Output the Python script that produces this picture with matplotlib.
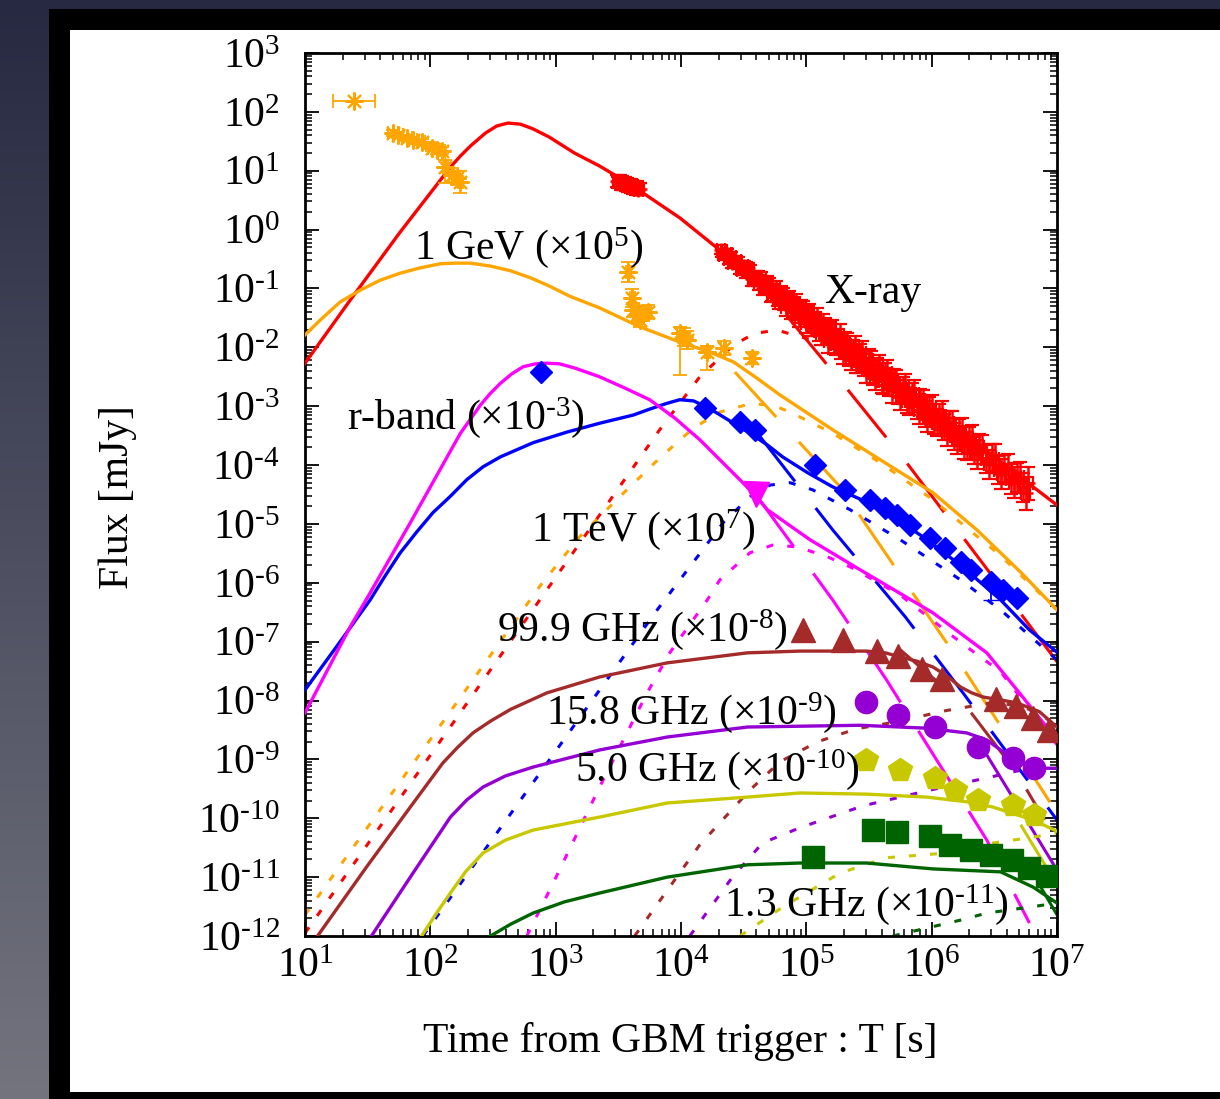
import numpy as np
import matplotlib
matplotlib.use("Agg")
import matplotlib.pyplot as plt
from matplotlib.patches import Rectangle
from matplotlib.colors import LinearSegmentedColormap
from matplotlib.ticker import LogLocator, NullFormatter, FuncFormatter

plt.rcParams['font.family'] = ['Liberation Serif', 'DejaVu Serif']
plt.rcParams['mathtext.fontset'] = 'custom'
plt.rcParams['mathtext.rm'] = 'Liberation Serif'
plt.rcParams['mathtext.it'] = 'Liberation Serif:italic'
plt.rcParams['mathtext.default'] = 'regular'

# all curves / points are stored as log10(T [s]) and log10(F [mJy])

# ---- total model (solid) ----
xray_lt = [1.00, 1.36, 1.76, 2.16, 2.24, 2.32, 2.44, 2.53, 2.62, 2.72, 2.82, 2.95, 3.15, 3.35, 3.58, 3.99, 4.31, 4.63, 4.95, 5.35, 5.75, 6.15, 6.55, 7.00]
xray_lf = [-2.27, -1.20, -0.04, 1.06, 1.25, 1.42, 1.64, 1.76, 1.81, 1.79, 1.71, 1.57, 1.30, 1.08, 0.79, 0.20, -0.35, -0.86, -1.28, -1.96, -2.64, -3.32, -3.95, -4.68]

gev_lt = [1.00, 1.12, 1.28, 1.44, 1.60, 1.76, 1.92, 2.08, 2.20, 2.32, 2.48, 2.64, 2.80, 2.95, 3.11, 3.35, 3.67, 3.99, 4.23, 4.42, 4.59, 4.79, 5.21, 5.59, 6.01, 6.36, 6.71, 7.00]
gev_lf = [-1.79, -1.54, -1.23, -1.03, -0.86, -0.74, -0.65, -0.58, -0.57, -0.57, -0.62, -0.70, -0.82, -0.96, -1.13, -1.33, -1.65, -1.91, -2.08, -2.25, -2.50, -2.81, -3.40, -3.91, -4.47, -5.10, -5.82, -6.46]

rband_lt = [1.00, 1.26, 1.52, 1.64, 1.76, 1.89, 2.02, 2.16, 2.29, 2.42, 2.56, 2.82, 3.09, 3.35, 3.62, 3.75, 3.89, 3.99, 4.10, 4.19, 4.29, 4.42, 4.55, 4.69, 4.81, 5.01, 5.21, 5.41, 5.61, 5.91, 6.23, 6.55, 6.78, 7.00]
rband_lf = [-7.82, -7.06, -6.29, -5.88, -5.49, -5.14, -4.81, -4.53, -4.25, -4.03, -3.86, -3.62, -3.44, -3.29, -3.15, -3.05, -2.95, -2.89, -2.91, -3.00, -3.12, -3.29, -3.46, -3.66, -3.86, -4.13, -4.37, -4.56, -4.76, -5.19, -5.70, -6.29, -6.80, -7.18]

tev_lt = [1.00, 1.36, 1.52, 1.84, 2.04, 2.24, 2.40, 2.48, 2.56, 2.65, 2.74, 2.84, 2.93, 3.03, 3.15, 3.35, 3.55, 3.75, 3.95, 4.15, 4.31, 4.47, 4.59, 4.69, 4.83, 5.03, 5.43, 6.01, 6.44, 6.70, 7.00]
tev_lf = [-8.21, -6.75, -6.17, -4.98, -4.22, -3.46, -2.98, -2.78, -2.61, -2.45, -2.33, -2.28, -2.27, -2.28, -2.35, -2.50, -2.69, -2.89, -3.20, -3.57, -3.91, -4.25, -4.51, -4.76, -4.97, -5.27, -5.78, -6.51, -7.19, -7.87, -8.67]

g999_lt = [1.10, 1.49, 1.84, 2.10, 2.22, 2.34, 2.48, 2.64, 2.93, 3.35, 3.89, 4.53, 4.95, 5.48, 5.63, 5.75, 5.88, 6.01, 6.12, 6.23, 6.32, 6.41, 6.55, 6.68, 6.86, 7.00]
g999_lf = [-12.00, -10.83, -9.81, -9.06, -8.79, -8.55, -8.35, -8.15, -7.87, -7.60, -7.36, -7.19, -7.16, -7.16, -7.19, -7.26, -7.33, -7.43, -7.58, -7.77, -7.87, -7.94, -7.99, -8.04, -8.19, -8.45]

g158_lt = [1.53, 1.84, 2.16, 2.29, 2.42, 2.60, 2.82, 3.35, 3.89, 4.53, 5.43, 5.96, 6.28, 6.44, 6.55, 6.63, 6.71, 6.81, 6.90, 7.00]
g158_lf = [-12.00, -11.00, -9.98, -9.69, -9.47, -9.28, -9.13, -8.84, -8.62, -8.45, -8.42, -8.47, -8.55, -8.67, -8.84, -8.96, -9.06, -9.13, -9.15, -9.15]

g50_lt = [1.93, 2.05, 2.16, 2.28, 2.42, 2.60, 2.82, 3.35, 3.89, 4.53, 4.95, 5.48, 5.96, 6.28, 6.49, 6.81, 7.00]
g50_lf = [-12.00, -11.61, -11.27, -10.91, -10.59, -10.37, -10.20, -9.98, -9.74, -9.64, -9.57, -9.59, -9.64, -9.72, -9.81, -10.03, -10.22]

g13_lt = [2.48, 2.64, 2.82, 3.07, 3.35, 3.89, 4.53, 4.95, 5.48, 6.01, 6.55, 6.81, 7.00]
g13_lf = [-12.00, -11.80, -11.61, -11.42, -11.27, -11.00, -10.79, -10.76, -10.76, -10.86, -10.91, -11.17, -11.44]

# ---- late component (dotted) ----
xray_b_lt = [1.00, 3.83, 4.15, 4.42, 4.59, 4.77, 4.95, 5.35, 6.15, 6.78]
xray_b_lf = [-11.95, -3.40, -2.50, -1.96, -1.76, -1.71, -1.82, -2.05, -3.40, -4.46]

gev_b_lt = [1.00, 2.88, 3.19, 3.51, 3.83, 4.10, 4.31, 4.55, 4.73, 4.87, 5.21, 5.59, 6.01, 6.55, 7.00]
gev_b_lf = [-11.64, -6.04, -5.22, -4.54, -3.88, -3.37, -3.10, -2.96, -2.98, -3.10, -3.46, -3.96, -4.59, -5.54, -6.46]

rband_b_lt = [1.94, 3.81, 4.13, 4.34, 4.55, 4.71, 4.87, 5.05, 5.35, 5.75, 6.23, 6.55, 7.00]
rband_b_lf = [-12.00, -6.46, -5.56, -4.97, -4.54, -4.34, -4.30, -4.42, -4.76, -5.27, -5.95, -6.46, -7.31]

tev_b_lt = [2.77, 2.98, 3.35, 3.73, 3.91, 4.21, 4.31, 4.55, 4.73, 4.93, 5.17, 5.35, 5.75, 6.23, 6.55, 7.00]
tev_b_lf = [-12.00, -11.10, -9.47, -7.87, -7.19, -6.29, -5.95, -5.49, -5.36, -5.39, -5.56, -5.73, -6.21, -7.01, -7.51, -8.75]

g999_b_lt = [3.63, 4.15, 4.55, 4.79, 5.09, 5.40, 5.75, 6.09, 6.47, 6.68, 6.86, 7.00]
g999_b_lf = [-12.00, -10.45, -9.52, -9.04, -8.70, -8.48, -8.35, -8.18, -8.04, -8.08, -8.21, -8.45]

g158_b_lt = [4.07, 4.41, 4.65, 4.95, 5.45, 5.99, 6.47, 6.65, 6.81, 7.00]
g158_b_lf = [-12.00, -11.00, -10.42, -10.16, -9.79, -9.52, -9.30, -9.21, -9.15, -9.15]

g50_b_lt = [4.47, 4.81, 5.27, 5.64, 6.12, 6.49, 6.81, 7.00]
g50_b_lf = [-12.00, -11.51, -10.93, -10.67, -10.59, -10.42, -10.32, -10.25]

g13_b_lt = [5.69, 5.99, 6.23, 6.44, 6.78, 7.00]
g13_b_lf = [-12.00, -11.85, -11.73, -11.61, -11.51, -11.44]

# ---- steep decaying component (long dash) ----
xray_c_lt = [4.85, 5.33, 5.80, 7.00]
xray_c_lf = [-1.48, -2.72, -3.96, -7.34]
gev_c_lt = [4.43, 5.27, 6.12, 7.00]
gev_c_lf = [-2.42, -4.37, -7.02, -9.91]
rband_c_lt = [4.61, 5.21, 5.79, 6.25, 7.00]
rband_c_lf = [-3.46, -5.10, -6.58, -7.87, -10.03]
tev_c_lt = [4.61, 5.21, 5.64, 6.04, 6.44, 6.78]
tev_c_lf = [-4.54, -6.29, -7.65, -9.01, -10.37, -11.78]
g999_c_lt = [5.75, 6.28, 6.68, 6.90]
g999_c_lf = [-7.14, -8.11, -9.23, -10.03]
g158_c_lt = [6.39, 7.00]
g158_c_lf = [-8.75, -10.88]
g50_c_lt = [6.71, 7.00]
g50_c_lf = [-10.11, -11.13]
g13_c_lt = [6.86, 7.00]
g13_c_lf = [-11.13, -11.64]

# ---- observations ----
lat_lt = [1.39, 1.70, 1.74, 1.81, 1.86, 1.93, 2.01, 2.05, 2.09, 2.12, 2.17, 2.21, 2.24,
          3.58, 3.61, 3.62, 3.66, 3.70, 3.74, 3.67, 3.99, 4.02, 4.05, 4.21, 4.34, 4.57]
lat_lf = [2.18, 1.64, 1.61, 1.56, 1.52, 1.49, 1.39, 1.35, 1.34, 1.06, 0.93, 0.88, 0.81,
          -0.72, -1.16, -1.37, -1.45, -1.42, -1.40, -1.54, -1.76, -1.82, -1.88, -2.08, -2.01, -2.18]
lat_dlt = [0.17, 0.04, 0.04, 0.04, 0.03, 0.03, 0.03, 0.03, 0.03, 0.02, 0.02, 0.02, 0.02,
           0.02, 0.02, 0.02, 0.02, 0.02, 0.02, 0.02, 0.02, 0.02, 0.02, 0.02, 0.02, 0.02]
lat_dlf_lo = [0.0, 0.05, 0.05, 0.05, 0.05, 0.05, 0.06, 0.06, 0.06, 0.27, 0.12, 0.12, 0.19,
              0.17, 0.15, 0.12, 0.12, 0.12, 0.12, 0.12, 0.71, 0.15, 0.15, 0.31, 0.12, 0.10]
lat_dlf_hi = [0.0, 0.05, 0.05, 0.05, 0.05, 0.05, 0.06, 0.06, 0.06, 0.12, 0.12, 0.12, 0.19,
              0.17, 0.15, 0.12, 0.12, 0.12, 0.12, 0.12, 0.10, 0.15, 0.15, 0.10, 0.12, 0.10]

xrt_lt = [3.49, 3.50, 3.51, 3.52, 3.53, 3.54, 3.55, 3.56, 3.57, 3.58, 3.59, 3.60, 3.61, 3.62, 3.63, 3.64, 3.65, 3.66, 3.67,
          4.32, 4.34, 4.36, 4.38, 4.40, 4.42, 4.44, 4.47, 4.50, 4.52, 4.55, 4.57, 4.60, 4.62,
          4.64, 4.67, 4.70, 4.72, 4.74, 4.77, 4.80, 4.82, 4.85, 4.88, 4.90, 4.93, 4.96, 4.98,
          5.01, 5.04, 5.07, 5.10, 5.13, 5.16, 5.19, 5.22, 5.25, 5.28, 5.31, 5.34, 5.37, 5.40,
          5.43, 5.46, 5.50, 5.53, 5.56, 5.60, 5.63, 5.66, 5.70, 5.73, 5.77, 5.80, 5.84, 5.88,
          5.91, 5.95, 5.98, 6.02, 6.06, 6.10, 6.14, 6.18, 6.22, 6.26, 6.30, 6.34, 6.38, 6.43,
          6.48, 6.53, 6.58, 6.63, 6.68, 6.73, 6.77,
          4.33, 4.37, 4.41, 4.455, 4.485, 4.535, 4.585, 4.615, 4.655, 4.685, 4.73, 4.755,
          4.785, 4.81, 4.835, 4.865, 4.89, 4.915, 4.945, 4.97, 4.995, 5.025, 5.055, 5.085,
          5.115, 5.145, 5.175, 5.205, 5.235, 5.265, 5.295, 5.325, 5.355, 5.385, 5.415, 5.445,
          5.48, 5.515, 5.545, 5.58, 5.615, 5.645, 5.68, 5.715, 5.75, 5.785, 5.82, 5.86,
          5.895, 5.93, 5.965, 6.00, 6.04, 6.08, 6.12, 6.16, 6.20, 6.24, 6.28, 6.32,
          6.36, 6.405, 6.455, 6.505, 6.555, 6.605, 6.655, 6.705, 6.75]
xrt_lf = [0.83, 0.80, 0.82, 0.78, 0.81, 0.77, 0.79, 0.75, 0.78, 0.74, 0.76, 0.72, 0.75, 0.71, 0.73, 0.69, 0.72, 0.68, 0.69,
          -0.34, -0.44, -0.41, -0.50, -0.46, -0.55, -0.53, -0.66, -0.62, -0.72, -0.70, -0.84, -0.80, -0.90,
          -0.83, -0.97, -0.94, -1.10, -1.04, -1.16, -1.08, -1.22, -1.19, -1.37, -1.28, -1.43, -1.33, -1.50,
          -1.45, -1.65, -1.55, -1.72, -1.60, -1.79, -1.73, -1.94, -1.86, -2.01, -1.91, -2.13, -2.05, -2.25,
          -2.13, -2.30, -2.21, -2.44, -2.37, -2.57, -2.45, -2.63, -2.55, -2.76, -2.71, -2.91, -2.80, -3.00,
          -2.90, -3.14, -3.06, -3.26, -3.17, -3.35, -3.29, -3.51, -3.44, -3.66, -3.58, -3.76, -3.70, -3.90,
          -3.87, -4.08, -4.06, -4.24, -4.21, -4.38, -4.31,
          -0.40, -0.41, -0.57, -0.56, -0.68, -0.66, -0.85, -0.81, -0.99, -0.91, -1.08, -1.01,
          -1.21, -1.13, -1.31, -1.19, -1.36, -1.25, -1.49, -1.38, -1.59, -1.44, -1.64, -1.52,
          -1.78, -1.68, -1.90, -1.73, -1.94, -1.80, -2.08, -1.96, -2.19, -2.01, -2.24, -2.10,
          -2.39, -2.28, -2.51, -2.34, -2.58, -2.43, -2.72, -2.60, -2.85, -2.68, -2.92, -2.79,
          -3.07, -2.95, -3.20, -3.04, -3.28, -3.16, -3.44, -3.33, -3.58, -3.44, -3.68, -3.57,
          -3.82, -3.74, -3.99, -3.89, -4.15, -4.07, -4.30, -4.21, -4.48]
xrt_dlf = [0.10, 0.10, 0.10, 0.10, 0.10, 0.10, 0.10, 0.10, 0.10, 0.10, 0.10, 0.10, 0.10, 0.10, 0.10, 0.10, 0.10, 0.10, 0.10,
           0.07, 0.08, 0.07, 0.09, 0.08, 0.09, 0.08, 0.10, 0.09, 0.10, 0.10, 0.11, 0.10, 0.12,
           0.11, 0.12, 0.12, 0.13, 0.12, 0.14, 0.13, 0.14, 0.13, 0.15, 0.14, 0.15, 0.14, 0.16,
           0.15, 0.16, 0.15, 0.17, 0.16, 0.17, 0.16, 0.18, 0.17, 0.18, 0.17, 0.19, 0.18, 0.19,
           0.18, 0.19, 0.18, 0.20, 0.19, 0.20, 0.19, 0.20, 0.19, 0.21, 0.20, 0.21, 0.20, 0.21,
           0.20, 0.22, 0.21, 0.22, 0.21, 0.22, 0.21, 0.23, 0.22, 0.23, 0.22, 0.23, 0.22, 0.24,
           0.23, 0.24, 0.23, 0.25, 0.24, 0.25, 0.28,
           0.07, 0.08, 0.09, 0.09, 0.10, 0.10, 0.11, 0.11, 0.12, 0.12, 0.13, 0.13,
           0.14, 0.14, 0.15, 0.15, 0.15, 0.16, 0.16, 0.16, 0.17, 0.17, 0.17, 0.18,
           0.18, 0.18, 0.19, 0.19, 0.19, 0.19, 0.20, 0.20, 0.20, 0.20, 0.20, 0.21,
           0.21, 0.21, 0.21, 0.21, 0.22, 0.22, 0.22, 0.22, 0.22, 0.22, 0.23, 0.23,
           0.23, 0.23, 0.23, 0.23, 0.23, 0.24, 0.24, 0.24, 0.24, 0.24, 0.24, 0.25,
           0.25, 0.25, 0.25, 0.25, 0.26, 0.26, 0.26, 0.27, 0.28]

opt_lt = [2.88, 4.19, 4.47, 4.59, 5.07, 5.31, 5.51, 5.63, 5.72, 5.83, 5.99, 6.11, 6.23, 6.31, 6.47, 6.57, 6.68]
opt_lf = [-2.42, -3.03, -3.27, -3.40, -4.00, -4.42, -4.59, -4.73, -4.85, -5.02, -5.24, -5.41, -5.65, -5.78, -5.99, -6.12, -6.26]

magic_lt = [4.60]
magic_lf = [-4.50]

mm_lt = [4.97, 5.29, 5.56, 5.73, 5.92, 6.08, 6.51, 6.67, 6.81, 6.94]
mm_lf = [-6.80, -6.97, -7.16, -7.24, -7.46, -7.63, -7.97, -8.09, -8.30, -8.50]

r158_lt = [5.48, 5.73, 6.03, 6.37, 6.65, 6.82]
r158_lf = [-8.02, -8.25, -8.45, -8.79, -8.98, -9.15]

r50_lt = [5.48, 5.75, 6.03, 6.19, 6.37, 6.65, 6.82]
r50_lf = [-9.01, -9.18, -9.32, -9.52, -9.69, -9.78, -9.94]

r13_lt = [5.05, 5.53, 5.72, 5.99, 6.15, 6.31, 6.47, 6.64, 6.78, 6.92]
r13_lf = [-10.66, -10.20, -10.23, -10.30, -10.45, -10.54, -10.62, -10.71, -10.84, -10.98]

RED, ORANGE, BLUE, MAGENTA = '#ff0000', '#ffa500', '#0000ff', '#ff00ff'
BROWN, VIOLET, DKYELLOW, DKGREEN = '#a52a2a', '#9400d3', '#c8c800', '#006400'

DOTTED = (0, (2.3, 4.6))
LONGDASH = (0, (20, 11))
HY = '\u2010'   # plain hyphen for negative exponents


def p10(v):
    return 10 ** np.asarray(v, dtype=float)


def asym(l, dlo, dhi):
    l = np.asarray(l, float)
    return [10 ** l - 10 ** (l - np.asarray(dlo, float)), 10 ** (l + np.asarray(dhi, float)) - 10 ** l]


def pow10(v, pos):
    e = int(round(np.log10(v)))
    return '10$^{%s}$' % str(e).replace('-', HY)


fig = plt.figure(figsize=(12.2, 10.99), dpi=100)

# slide background + frame
bg = fig.add_axes([0, 0, 1, 1], zorder=-10)
grad = np.linspace(0, 1, 256).reshape(-1, 1)
bg.imshow(grad, aspect='auto', extent=[0, 1, 0, 1], origin='upper',
          cmap=LinearSegmentedColormap.from_list('slide', ['#262941', '#74747f']))
bg.axis('off')
fig.patches.append(Rectangle((49 / 1220, 0), 1, 1090 / 1099, transform=fig.transFigure,
                             facecolor='black', edgecolor='none', zorder=-5))
fig.patches.append(Rectangle((70 / 1220, 7 / 1099), 1, 1062 / 1099, transform=fig.transFigure,
                             facecolor='white', edgecolor='none', zorder=-4))

ax = fig.add_axes([0.25, 0.1483, 0.6164, 0.8035], zorder=1)

bands = [
    (RED, xray_lt, xray_lf, xray_b_lt, xray_b_lf, xray_c_lt, xray_c_lf),
    (ORANGE, gev_lt, gev_lf, gev_b_lt, gev_b_lf, gev_c_lt, gev_c_lf),
    (BLUE, rband_lt, rband_lf, rband_b_lt, rband_b_lf, rband_c_lt, rband_c_lf),
    (MAGENTA, tev_lt, tev_lf, tev_b_lt, tev_b_lf, tev_c_lt, tev_c_lf),
    (BROWN, g999_lt, g999_lf, g999_b_lt, g999_b_lf, g999_c_lt, g999_c_lf),
    (VIOLET, g158_lt, g158_lf, g158_b_lt, g158_b_lf, g158_c_lt, g158_c_lf),
    (DKYELLOW, g50_lt, g50_lf, g50_b_lt, g50_b_lf, g50_c_lt, g50_c_lf),
    (DKGREEN, g13_lt, g13_lf, g13_b_lt, g13_b_lf, g13_c_lt, g13_c_lf),
]
for col, slt, slf, blt, blf, clt, clf in bands:
    ax.plot(p10(blt), p10(blf), color=col, lw=2.2, ls=DOTTED, zorder=2)
    ax.plot(p10(clt), p10(clf), color=col, lw=2.2, ls=LONGDASH, zorder=2)
    ax.plot(p10(slt), p10(slf), color=col, lw=2.4, zorder=3, solid_joinstyle='round')

# Fermi-LAT 1 GeV
ax.errorbar(p10(lat_lt), p10(lat_lf), xerr=asym(lat_lt, lat_dlt, lat_dlt),
            yerr=asym(lat_lf, lat_dlf_lo, lat_dlf_hi), fmt='none', ecolor=ORANGE,
            elinewidth=1.3, capsize=5, capthick=1.3, zorder=4)
ax.plot(p10(lat_lt), p10(lat_lf), ls='none', marker=(8, 2, 0), ms=13, mew=1.5,
        color=ORANGE, zorder=4)

# X-ray
ax.errorbar(p10(xrt_lt), p10(xrt_lf), xerr=asym(xrt_lt, [0.035] * len(xrt_lt), [0.035] * len(xrt_lt)),
            yerr=asym(xrt_lf, xrt_dlf, xrt_dlf), fmt='none', ecolor=RED,
            elinewidth=1.8, capsize=5, capthick=1.6, zorder=4)
ax.plot(p10(xrt_lt), p10(xrt_lf), ls='none', marker='+', ms=10, mew=1.8, color=RED, zorder=4)

# optical r-band
ax.errorbar(p10(opt_lt[14:15]), p10(opt_lf[14:15]), yerr=asym(opt_lf[14:15], [0.3], [0.0]),
            fmt='none', ecolor=BLUE, elinewidth=1.3, capsize=6, zorder=4)
ax.plot(p10(opt_lt), p10(opt_lf), ls='none', marker='D', ms=11, color=BLUE, zorder=5)

# 1 TeV, radio
ax.plot(p10(magic_lt), p10(magic_lf), ls='none', marker='v', ms=18, color=MAGENTA, zorder=5)
ax.plot(p10(mm_lt), p10(mm_lf), ls='none', marker='^', ms=17, color=BROWN, zorder=5)
ax.plot(p10(r158_lt), p10(r158_lf), ls='none', marker='o', ms=16, color=VIOLET, zorder=5)
ax.plot(p10(r50_lt), p10(r50_lf), ls='none', marker='p', ms=18, color=DKYELLOW, zorder=5)
ax.plot(p10(r13_lt), p10(r13_lf), ls='none', marker='s', ms=16, color=DKGREEN, zorder=5)

labels = [
    (2.78, -0.31, '1 GeV (×10$^{5}$)'),
    (5.53, -1.08, 'X-ray'),
    (2.28, -3.20, 'r-band (×10$^{%s3}$)' % HY),
    (3.70, -5.10, '1 TeV (×10$^{7}$)'),
    (3.69, -6.80, '99.9 GHz (×10$^{%s8}$)' % HY),
    (4.08, -8.21, '15.8 GHz (×10$^{%s9}$)' % HY),
    (4.29, -9.18, '5.0 GHz (×10$^{%s10}$)' % HY),
    (5.48, -11.47, '1.3 GHz (×10$^{%s11}$)' % HY),
]
for lx, ly, s in labels:
    ax.text(10 ** lx, 10 ** ly, s, ha='center', va='center', fontsize=30, zorder=6)

ax.set_xscale('log')
ax.set_yscale('log')
ax.set_xlim(1e1, 1e7)
ax.set_ylim(1e-12, 1e3)
ax.xaxis.set_major_locator(LogLocator(base=10, numticks=30))
ax.yaxis.set_major_locator(LogLocator(base=10, numticks=30))
ax.xaxis.set_minor_locator(LogLocator(base=10, subs=np.arange(2, 10) * 1.0, numticks=100))
ax.yaxis.set_minor_locator(LogLocator(base=10, subs=np.arange(2, 10) * 1.0, numticks=100))
ax.xaxis.set_major_formatter(FuncFormatter(pow10))
ax.yaxis.set_major_formatter(FuncFormatter(pow10))
ax.xaxis.set_minor_formatter(NullFormatter())
ax.yaxis.set_minor_formatter(NullFormatter())
ax.tick_params(which='both', direction='in', top=True, right=True, labelsize=30)
ax.tick_params(which='major', length=10, width=1.3)
ax.tick_params(which='minor', length=5, width=1.1)
ax.tick_params(axis='x', pad=8)
ax.tick_params(axis='y', pad=18)
for sp in ax.spines.values():
    sp.set_linewidth(2.0)

ax.set_xlabel('Time from GBM trigger : T [s]', fontsize=30, va='center')
ax.set_ylabel('Flux [mJy]', fontsize=30, va='center')
ax.xaxis.set_label_coords(0.4987, -0.12)
ax.yaxis.set_label_coords(-0.2487, 0.497)

fig.savefig('out.png', dpi=100)
